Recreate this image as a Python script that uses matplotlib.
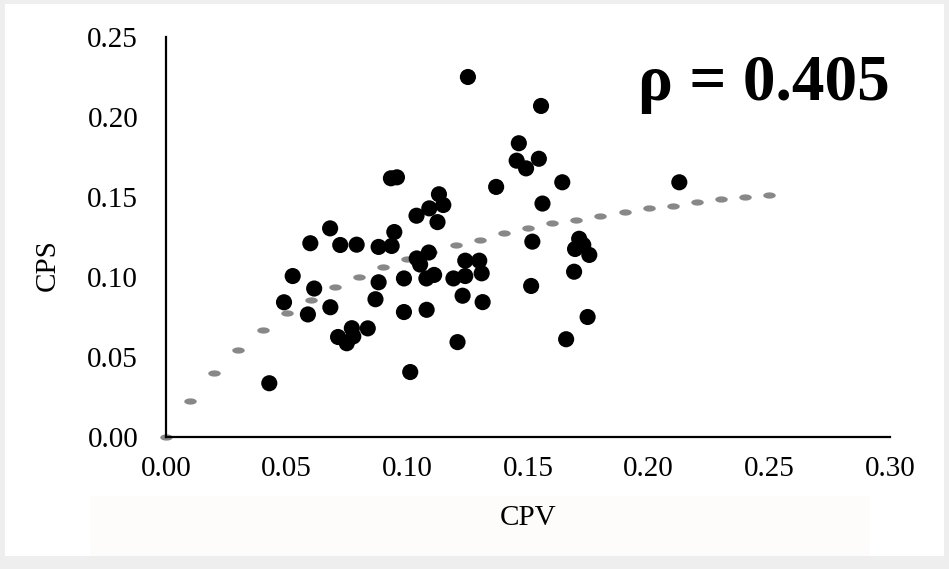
import matplotlib
matplotlib.use("Agg")
import numpy as np
import matplotlib.pyplot as plt
from matplotlib.patches import Rectangle

# scatter data
cpv = [0.0428, 0.0489, 0.0525, 0.0588, 0.0598, 0.0614, 0.0680, 0.0681, 0.0722, 0.0790,
       0.0713, 0.0749, 0.0770, 0.0776, 0.0836, 0.0868, 0.0881, 0.0881, 0.0935, 0.0946,
       0.0932, 0.0957, 0.0986, 0.0986, 0.1012, 0.1038, 0.1039, 0.1053, 0.1089, 0.1091,
       0.1079, 0.1080, 0.1111, 0.1125, 0.1131, 0.1149, 0.1191, 0.1208, 0.1229, 0.1240,
       0.1240, 0.1298, 0.1308, 0.1312, 0.1251, 0.1368, 0.1462, 0.1453, 0.1492, 0.1545,
       0.1554, 0.1560, 0.1513, 0.1518, 0.1642, 0.1658, 0.1691, 0.1695, 0.1712, 0.1729,
       0.1754, 0.1747, 0.2127]
cps = [0.0336, 0.0842, 0.1006, 0.0766, 0.1211, 0.0928, 0.1304, 0.0811, 0.1200, 0.1202,
       0.0625, 0.0586, 0.0680, 0.0629, 0.0679, 0.0861, 0.0967, 0.1188, 0.1194, 0.1281,
       0.1617, 0.1623, 0.0991, 0.0781, 0.0406, 0.1383, 0.1116, 0.1078, 0.1153, 0.1429,
       0.0991, 0.0795, 0.1013, 0.1343, 0.1517, 0.1450, 0.0991, 0.0593, 0.0883, 0.1102,
       0.1006, 0.1102, 0.1023, 0.0843, 0.2250, 0.1563, 0.1836, 0.1727, 0.1679, 0.1739,
       0.2069, 0.1459, 0.0944, 0.1221, 0.1592, 0.0611, 0.1033, 0.1175, 0.1239, 0.1200,
       0.1138, 0.0750, 0.1592]

# trend line (dotted), read at each dash
trend_x = [0.00, 0.01, 0.02, 0.03, 0.04, 0.05, 0.06, 0.07, 0.08, 0.09, 0.10, 0.11, 0.12,
           0.13, 0.14, 0.15, 0.16, 0.17, 0.18, 0.19, 0.20, 0.21, 0.22, 0.23, 0.24, 0.25]
trend_y = [0.0000, 0.0227, 0.0398, 0.0546, 0.0671, 0.0773, 0.0858, 0.0937, 0.1000, 0.1063,
           0.1110, 0.1158, 0.1202, 0.1233, 0.1273, 0.1304, 0.1335, 0.1358, 0.1383, 0.1406,
           0.1429, 0.1446, 0.1469, 0.1486, 0.1500, 0.1515]

ticks = [0.00, 0.05, 0.10, 0.15, 0.20, 0.25, 0.30]
yticks = [0.00, 0.05, 0.10, 0.15, 0.20, 0.25]

plt.rcParams['font.family'] = ['Liberation Serif', 'DejaVu Serif']

W, H = 949, 569
fig = plt.figure(figsize=(W / 100, H / 100), dpi=100, facecolor='#eeeeee')
# white slide area with a faint pink tint at the bottom
fig.patches.append(Rectangle((5 / W, 1 - 556 / H), 939 / W, 552 / H,
                             transform=fig.transFigure, facecolor='white',
                             edgecolor='none', zorder=-2))
fig.patches.append(Rectangle((90 / W, 1 - 556 / H), 780 / W, 60 / H,
                             transform=fig.transFigure, facecolor='#fefbfb',
                             edgecolor='none', zorder=-1))

ax = fig.add_axes([166 / W, 1 - 437 / H, 724 / W, 400 / H])
ax.set_facecolor('none')

# short rounded horizontal dash marker
t = np.linspace(0, 2 * np.pi, 40)
pill = list(zip(np.cos(t), 0.5 * np.sin(t)))
ax.plot(trend_x, trend_y, linestyle='none', marker=pill, markersize=9,
        markeredgewidth=0, color='#888888', zorder=2, clip_on=False)
ax.scatter(cpv, cps, s=135, color='black', edgecolors='none', zorder=3)

ax.set_xlim(0, 0.30)
ax.set_ylim(0, 0.25)
ax.set_xticks(ticks)
ax.set_yticks(yticks)
ax.set_xticklabels([f"{v:.2f}" for v in ticks])
ax.set_yticklabels([f"{v:.2f}" for v in yticks])
ax.tick_params(axis='both', length=0, labelsize=21)
ax.tick_params(axis='x', pad=14)
ax.tick_params(axis='y', pad=20)

for s in ['top', 'right']:
    ax.spines[s].set_visible(False)
for s in ['left', 'bottom']:
    ax.spines[s].set_linewidth(1.6)
    ax.spines[s].set_color('black')

fig.text(48 / W, 1 - 265 / H, 'CPS', rotation=90, ha='center', va='center', fontsize=21)
fig.text(528 / W, 1 - 518 / H, 'CPV', ha='center', va='center', fontsize=21)

ax.text(1.0, (437 - 100) / 400, 'ρ = 0.405', transform=ax.transAxes,
        ha='right', va='baseline', fontsize=47, fontweight='bold')

fig.savefig('out.png', dpi=100, facecolor=fig.get_facecolor())
